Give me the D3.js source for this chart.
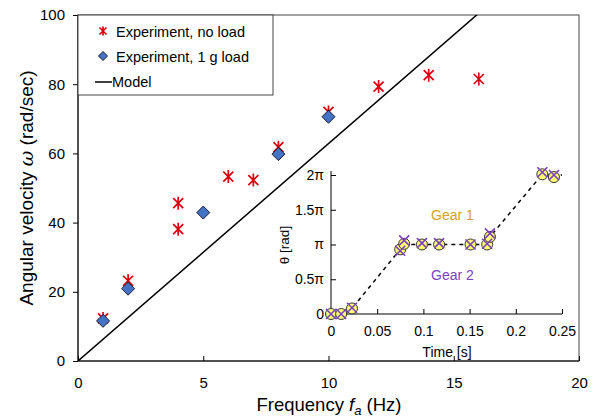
<!DOCTYPE html>
<html>
<head>
  <meta charset="utf-8">
  <title>Angular velocity vs frequency</title>
  <style>
  body { margin: 0; background: #fff; }
  svg { font-family: "Liberation Sans", Arial, sans-serif; }
  .axis path, .axis line { stroke: #000; }
  .axis text { fill: #000; }
  </style>
</head>
<body>
  <svg width="594" height="418"></svg>
  <script src="https://d3js.org/d3.v7.min.js"></script>
  <script>
  // main chart data
  var noLoadF = [1, 2, 4, 4, 6, 7, 8, 10, 12, 14, 16];
  var noLoadW = [12.3, 23.2, 45.6, 38.1, 53.3, 52.3, 61.8, 72, 79.3, 82.6, 81.5];
  var loadF = [1, 2, 5, 8, 10];
  var loadW = [11.6, 20.9, 42.9, 59.8, 70.6];
  var modelF = [0, 20];
  var xTicks = [0, 5, 10, 15, 20];
  var yTicks = [0, 20, 40, 60, 80, 100];

  // inset data (theta in units of pi)
  var gear1T = [0, 0.011, 0.0227, 0.0749, 0.0792, 0.0984, 0.117, 0.151, 0.169, 0.172, 0.2287, 0.2413];
  var gear1Th = [0, 0, 0.08, 0.93, 1.01, 1.0, 1.0, 1.0, 1.0, 1.11, 2.01, 1.97];
  var gear2T = [0, 0.011, 0.0227, 0.0749, 0.0792, 0.0984, 0.117, 0.151, 0.169, 0.172, 0.2287, 0.2413];
  var gear2Th = [0, 0, 0.09, 0.91, 1.06, 1.02, 1.02, 1.0, 1.01, 1.16, 2.04, 2.0];
  var pathT = [0, 0.011, 0.0227, 0.0792, 0.169, 0.172, 0.2287, 0.25];
  var pathTh = [0, 0, 0.08, 1.0, 1.0, 1.11, 2.01, 2.0];
  var insetXTicks = [0, 0.05, 0.1, 0.15, 0.2, 0.25];
  var insetYTicks = [0, 0.5, 1, 1.5, 2];
  var insetYLabels = ["0", "0.5\u03c0", "\u03c0", "1.5\u03c0", "2\u03c0"];

  var svg = d3.select("svg");
  var x = d3.scaleLinear().domain([0, 20]).range([78, 579]);
  var y = d3.scaleLinear().domain([0, 100]).range([361, 15]);

  // frame
  svg.append("rect").attr("x", 78).attr("y", 15).attr("width", 501).attr("height", 346)
    .attr("fill", "none").attr("stroke", "#444").attr("stroke-width", 1);

  var gx = svg.append("g").attr("class", "axis").attr("transform", "translate(0,361)")
    .call(d3.axisBottom(x).tickValues(xTicks).tickSize(-5).tickPadding(16));
  gx.selectAll("text").attr("font-size", 15).attr("font-family", "Liberation Sans");
  gx.select(".domain").remove();

  var gy = svg.append("g").attr("class", "axis").attr("transform", "translate(78,0)")
    .call(d3.axisLeft(y).tickValues(yTicks).tickSize(5).tickPadding(8));
  gy.selectAll("text").attr("font-size", 15).attr("font-family", "Liberation Sans");
  gy.select(".domain").remove();

  svg.append("line").attr("x1", 78).attr("x2", 579).attr("y1", 361).attr("y2", 361).attr("stroke", "#000");
  svg.append("line").attr("x1", 78).attr("x2", 78).attr("y1", 15).attr("y2", 361).attr("stroke", "#000");

  // model line
  var clip = svg.append("clipPath").attr("id", "plotclip");
  clip.append("rect").attr("x", 78).attr("y", 15).attr("width", 501).attr("height", 346);
  svg.append("path")
    .datum(modelF)
    .attr("clip-path", "url(#plotclip)")
    .attr("fill", "none").attr("stroke", "#000").attr("stroke-width", 1.5)
    .attr("d", d3.line().x(function(d) { return x(d); }).y(function(d) { return y(2 * Math.PI * d); }));

  function asterisk(g, s) {
    g.append("path")
      .attr("d", "M" + (-s) + "," + (-s) + "L" + s + "," + s + "M" + (-s) + "," + s + "L" + s + "," + (-s) +
        "M0," + (-s * 1.3) + "L0," + (s * 1.3))
      .attr("stroke", "#d9000d").attr("stroke-width", 1.7).attr("fill", "none");
  }
  function diamond(g, s) {
    g.append("path").attr("d", "M0," + (-s) + "L" + s + ",0L0," + s + "L" + (-s) + ",0Z")
      .attr("fill", "#4472c4").attr("stroke", "#1a1a2e").attr("stroke-width", 1);
  }

  noLoadF.forEach(function(f, i) {
    asterisk(svg.append("g").attr("transform", "translate(" + x(f) + "," + y(noLoadW[i]) + ")"), 5);
  });
  loadF.forEach(function(f, i) {
    diamond(svg.append("g").attr("transform", "translate(" + x(f) + "," + y(loadW[i]) + ")"), 6.5);
  });

  // legend
  svg.append("rect").attr("x", 78).attr("y", 15).attr("width", 195).attr("height", 80)
    .attr("fill", "#fff").attr("stroke", "#444").attr("stroke-width", 1);
  asterisk(svg.append("g").attr("transform", "translate(103,31)"), 3.5);
  diamond(svg.append("g").attr("transform", "translate(103,56)"), 4.5);
  svg.append("line").attr("x1", 95).attr("x2", 112).attr("y1", 82).attr("y2", 82)
    .attr("stroke", "#000").attr("stroke-width", 1.5);
  var legText = ["Experiment, no load", "Experiment, 1 g load"];
  legText.forEach(function(t, i) {
    svg.append("text").attr("x", 116).attr("y", 37 + i * 25).attr("font-size", 14.5).text(t);
  });
  svg.append("text").attr("x", 112).attr("y", 87).attr("font-size", 14.5).text("Model");

  // axis titles
  var xt = svg.append("text").attr("x", 329).attr("y", 411).attr("text-anchor", "middle").attr("font-size", 18.5);
  xt.append("tspan").text("Frequency ");
  xt.append("tspan").attr("font-style", "italic").text("f");
  xt.append("tspan").attr("font-style", "italic").attr("font-size", 13).attr("dy", 4).text("a");
  xt.append("tspan").attr("dy", -4).text(" (Hz)");

  var yt = svg.append("text").attr("transform", "translate(33,188) rotate(-90)")
    .attr("text-anchor", "middle").attr("font-size", 19);
  yt.append("tspan").text("Angular velocity ");
  yt.append("tspan").attr("font-style", "italic").attr("font-family", "DejaVu Serif").text("\u03c9");
  yt.append("tspan").text(" (rad/sec)");

  // inset
  var ix = d3.scaleLinear().domain([0, 0.25]).range([331, 562]);
  var iy = d3.scaleLinear().domain([0, 2]).range([314, 175]);

  var igx = svg.append("g").attr("class", "axis").attr("transform", "translate(0,314)")
    .call(d3.axisBottom(ix).tickValues(insetXTicks).tickFormat(d3.format("")).tickSize(-5).tickPadding(12).tickSizeOuter(0));
  igx.selectAll("text").attr("font-size", 14).attr("font-family", "Liberation Sans");
  igx.select(".domain").attr("d", "M331,0H562");

  var igy = svg.append("g").attr("class", "axis").attr("transform", "translate(331,0)")
    .call(d3.axisLeft(iy).tickValues(insetYTicks).tickSize(-5).tickPadding(7)
      .tickFormat(function(d, i) { return insetYLabels[i]; }));
  igy.selectAll("text").attr("font-size", 14).attr("font-family", "Liberation Sans");
  igy.select(".domain").attr("d", "M0,314V171");

  svg.append("path")
    .datum(pathT.map(function(t, i) { return [t, pathTh[i]]; }))
    .attr("fill", "none").attr("stroke", "#000").attr("stroke-width", 1.5).attr("stroke-dasharray", "4,4")
    .attr("d", d3.line().x(function(d) { return ix(d[0]); }).y(function(d) { return iy(d[1]); }));

  gear1T.forEach(function(t, i) {
    svg.append("circle").attr("cx", ix(t)).attr("cy", iy(gear1Th[i])).attr("r", 5.5)
      .attr("fill", "#ffff70").attr("stroke", "#333").attr("stroke-width", 1);
  });
  gear2T.forEach(function(t, i) {
    var cx = ix(t), cy = iy(gear2Th[i]), s = 5;
    svg.append("path")
      .attr("d", "M" + (cx - s) + "," + (cy - s) + "L" + (cx + s) + "," + (cy + s) +
        "M" + (cx - s) + "," + (cy + s) + "L" + (cx + s) + "," + (cy - s))
      .attr("stroke", "#7b3fbf").attr("stroke-width", 1.6);
  });

  svg.append("text").attr("x", 431).attr("y", 220).attr("font-size", 14).attr("fill", "#d4a21a").text("Gear 1");
  svg.append("text").attr("x", 431).attr("y", 280).attr("font-size", 14).attr("fill", "#7b3fbf").text("Gear 2");
  svg.append("text").attr("x", 447).attr("y", 357).attr("text-anchor", "middle").attr("font-size", 14).text("Time [s]");
  svg.append("text").attr("transform", "translate(289,245) rotate(-90)").attr("text-anchor", "middle")
    .attr("font-size", 13.5).text("\u03b8 [rad]");
  </script>
</body>
</html>
